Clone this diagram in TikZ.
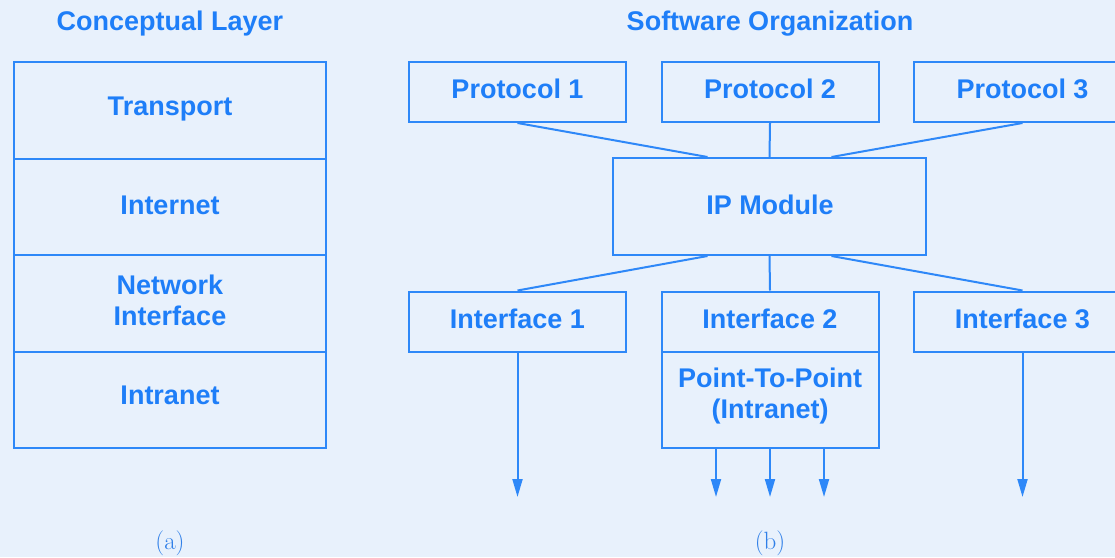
\documentclass[tikz,border=0pt]{standalone}
\usepackage{fontspec}
\setsansfont{Liberation Sans}
\usetikzlibrary{arrows.meta}
\definecolor{bg}{HTML}{E8F1FC}
\definecolor{ink}{HTML}{1E7EF8}
\definecolor{lin}{HTML}{2E88F8}
\definecolor{cap}{HTML}{2F7FE8}
\tikzset{
  lbl/.style={font=\sffamily\bfseries\fontsize{27}{31}\selectfont, text=ink, align=center, inner sep=0pt},
  box/.style={draw=lin, line width=2pt, fill=none, inner sep=0pt},
  conn/.style={draw=lin, line width=2pt},
  arr/.style={draw=lin, line width=2pt, -{Triangle[width=10pt,length=18pt]}},
  capt/.style={font=\fontsize{25}{29}\selectfont, text=cap, inner sep=0pt}
}
\begin{document}
\begin{tikzpicture}[x=1pt,y=-1pt]
\useasboundingbox (0,0) rectangle (1115,557);
\fill[bg] (0,0) rectangle (1115,557);
\clip (0,0) rectangle (1115,557);
% titles
\node[lbl] (t1) at (170,24) {Conceptual Layer};
\node[lbl] (t2) at (770,24) {Software Organization};
% left stack
\node[box, minimum width=312pt, minimum height=96.5pt] (tr) at (170,110.25) {};
\node[box, minimum width=312pt, minimum height=96.5pt] (in) at (170,206.75) {};
\node[box, minimum width=312pt, minimum height=96.5pt] (ni) at (170,303.25) {};
\node[box, minimum width=312pt, minimum height=96.5pt] (it) at (170,399.75) {};
\node[lbl] (trl) at (170,109) {Transport};
\node[lbl] (inl) at (170,205) {Internet};
\node[lbl] (nil) at (170,300) {Network\\Interface};
\node[lbl] (itl) at (170,395) {Intranet};
\node[capt] (ca) at (170,543) {(a)};
% protocols
\node[box, minimum width=217pt, minimum height=60pt] (p1) at (517.5,92) {};
\node[box, minimum width=217pt, minimum height=60pt] (p2) at (770,92) {};
\node[box, minimum width=217pt, minimum height=60pt] (p3) at (1022.5,92) {};
\node[lbl] at (517.5,89) {Protocol 1};
\node[lbl] at (770,89) {Protocol 2};
\node[lbl] at (1022.5,89) {Protocol 3};
% IP module
\node[box, minimum width=313pt, minimum height=97pt] (ip) at (769.5,206.5) {};
\node[lbl] at (770,205) {IP Module};
% interfaces
\node[box, minimum width=217pt, minimum height=60pt] (i1) at (517.5,321.5) {};
\node[box, minimum width=217pt, minimum height=60pt] (i2) at (770,321.5) {};
\node[box, minimum width=217pt, minimum height=60pt] (i3) at (1022.5,321.5) {};
\node[box, minimum width=217pt, minimum height=96pt] (pp) at (770,399.5) {};
\node[lbl] at (517.5,319) {Interface 1};
\node[lbl] at (770,319) {Interface 2};
\node[lbl] at (1022.5,319) {Interface 3};
\node[lbl] at (770,396) {Point-To-Point\\(Intranet)};
% connectors
\draw[conn] (p1.south) -- ([xshift=-62pt]ip.north);
\draw[conn] (p2.south) -- (ip.north);
\draw[conn] (p3.south) -- ([xshift=62pt]ip.north);
\draw[conn] ([xshift=-62pt]ip.south) -- (i1.north);
\draw[conn] (ip.south) -- (i2.north);
\draw[conn] ([xshift=62pt]ip.south) -- (i3.north);
% arrows
\coordinate (e1) at (517.5,497);
\coordinate (e2) at (716,497);
\coordinate (e3) at (770,497);
\coordinate (e4) at (824,497);
\coordinate (e5) at (1022.5,497);
\draw[arr] (i1.south) -- (e1);
\draw[arr] ([xshift=-54pt]pp.south) -- (e2);
\draw[arr] (pp.south) -- (e3);
\draw[arr] ([xshift=54pt]pp.south) -- (e4);
\draw[arr] (i3.south) -- (e5);
\node[capt] (cb) at (770,543) {(b)};
\end{tikzpicture}
\end{document}
